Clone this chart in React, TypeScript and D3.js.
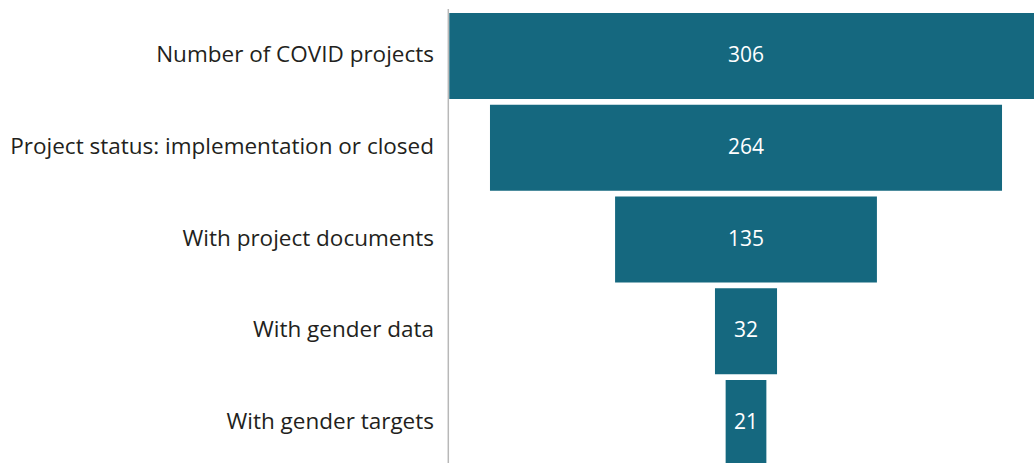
import React, { useRef, useEffect } from "react";
import * as d3 from "d3";

const stages = [
  "Number of COVID projects",
  "Project status: implementation or closed",
  "With project documents",
  "With gender data",
  "With gender targets",
];
const counts = [306, 264, 135, 32, 21];

function Funnel({ width, height }: { width: number; height: number }) {
  const svgRef = useRef<SVGSVGElement>(null);

  useEffect(() => {
    const svg = d3.select(svgRef.current);
    svg.selectAll("*").remove();

    const data = stages.map((s, i) => ({ stage: s, count: counts[i] }));

    // centred funnel: symmetric x domain around zero
    const max = d3.max(counts) as number;
    const x = d3.scaleLinear().domain([-max, max]).range([449.25, 1042.75]);

    const y = d3.scaleBand()
      .domain(stages)
      .range([13, 466])
      .paddingInner(0.0627)
      .paddingOuter(0);

    svg.attr("width", width).attr("height", height);

    svg.append("g")
      .selectAll("rect")
      .data(data)
      .enter()
      .append("rect")
      .attr("x", d => x(-d.count))
      .attr("y", d => y(d.stage)!)
      .attr("width", d => x(d.count) - x(-d.count))
      .attr("height", y.bandwidth())
      .style("fill", "#15687f");

    svg.append("g")
      .selectAll("text")
      .data(data)
      .enter()
      .append("text")
      .attr("x", x(0))
      .attr("y", d => y(d.stage)! + y.bandwidth() / 2 + 6)
      .attr("text-anchor", "middle")
      .style("font-family", "'Open Sans', sans-serif")
      .style("font-size", "21px")
      .style("fill", "#ffffff")
      .text(d => d.count);

    // category labels on the left
    svg.append("g")
      .selectAll("text")
      .data(data)
      .enter()
      .append("text")
      .attr("x", 434)
      .attr("y", d => y(d.stage)! + y.bandwidth() / 2 + 6)
      .attr("text-anchor", "end")
      .style("font-family", "'Open Sans', sans-serif")
      .style("font-size", "22.5px")
      .style("fill", "#231f20")
      .text(d => d.stage);

    // vertical axis line
    svg.append("line")
      .attr("x1", 448.3)
      .attr("x2", 448.3)
      .attr("y1", 9)
      .attr("y2", height)
      .style("stroke", "#b8b8b8")
      .style("stroke-width", 1.5);
  }, [width, height]);

  return <svg ref={svgRef} style={{ position: "absolute", left: 0, top: 0, display: "block" }}></svg>;
}

export default function App() {
  return <Funnel width={1034} height={463} />;
}
